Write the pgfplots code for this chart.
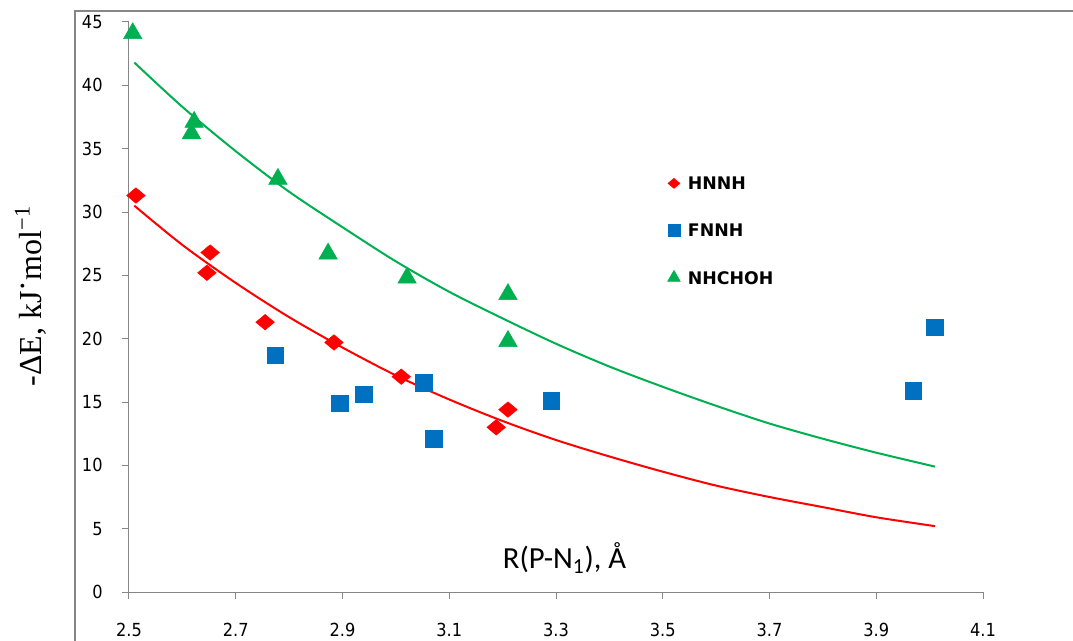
\documentclass[border=0pt]{standalone}
\usepackage{pgfplots}
\pgfplotsset{compat=1.18}
\usepackage{fontspec}
\setmainfont{DejaVu Sans}
\newfontfamily\tickfont{DejaVu Sans}[FakeStretch=0.9]
\newfontfamily\labelfont{Carlito}
\newfontfamily\seriffont{Liberation Serif}

\definecolor{hred}{RGB}{255,0,0}
\definecolor{fblue}{RGB}{0,112,192}
\definecolor{ngreen}{RGB}{0,176,80}
\definecolor{axgray}{RGB}{134,134,134}

\pgfplotsset{onemark/.style={legend image code/.code={\draw[##1] plot coordinates {(0pt,0pt)};}}}

% measured points
\pgfplotstableread{
x y
2.513 31.3
2.652 26.8
2.646 25.2
2.755 21.3
2.884 19.7
3.010 17.0
3.188 13.0
3.210 14.4
}\hnnh
\pgfplotstableread{
x y
2.774 18.7
2.895 14.9
2.940 15.6
3.052 16.5
3.071 12.1
3.291 15.1
3.969 15.9
4.010 20.9
}\fnnh
\pgfplotstableread{
x y
2.507 44.1
2.622 37.1
2.617 36.2
2.779 32.6
2.873 26.7
3.021 24.8
3.210 23.5
3.210 19.8
}\nhchoh

\begin{document}
\begin{tikzpicture}
\path[use as bounding box] (0,0) rectangle (804.75pt,480pt);
\draw[axgray, line width=1.3pt] (56.25pt,-5pt) -- (56.25pt,471.75pt) -- (820pt,471.75pt);
\begin{axis}[
  at={(96.75pt,36pt)}, anchor=south west,
  scale only axis, width=640.5pt, height=427.5pt,
  xmin=2.5, xmax=4.1, ymin=0, ymax=45,
  xtick={2.5,2.7,2.9,3.1,3.3,3.5,3.7,3.9,4.1},
  ytick={0,5,10,15,20,25,30,35,40,45},
  axis x line*=bottom, axis y line*=left,
  axis line style={draw=axgray, line width=0.75pt, -},
  tick style={draw=axgray, line width=0.75pt},
  tick align=outside, major tick length=5pt,
  clip=false,
  /pgf/number format/assume math mode=true,
  tick label style={font=\tickfont\fontsize{13.5}{16}\selectfont, inner sep=0pt},
  xticklabel style={anchor=north, yshift=-18pt,
    /pgf/number format/.cd, fixed, precision=1, fixed zerofill},
  yticklabel style={anchor=east, xshift=-14.6pt},
  xlabel={\labelfont\fontsize{23}{26}\selectfont R(P-N\textsubscript{1}), Å},
  xlabel style={at={(axis description cs:0.51,0.0404)}, anchor=base},
  ylabel={\seriffont\fontsize{24}{28}\selectfont -ΔE, kJ\raisebox{0.55ex}{·}mol\textsuperscript{−1}},
  ylabel style={at={(axis description cs:-0.1022,0.519)}, anchor=base},
  legend style={at={(axis description cs:0.6307,0.728)}, anchor=north west,
    draw=none, fill=none, inner sep=0pt, outer sep=0pt,
    font=\bfseries\fontsize{13}{15}\selectfont,
    nodes={inner sep=0pt, text height=9.5pt, text depth=0pt},
    row sep=25.5pt, column sep=5.7pt},
  legend cell align=left,
]
\addplot[only marks, mark=diamond*, mark size=5.8pt, color=hred,
  mark options={xscale=1.6}, forget plot] table[x=x,y=y] {\hnnh};
\addplot[only marks, mark=square*, mark size=6.2pt, color=fblue, forget plot]
  table[x=x,y=y] {\fnnh};
\addplot[only marks, mark=triangle*, mark size=8pt, color=ngreen, forget plot]
  table[x=x,y=y] {\nhchoh};
% trendlines
\addplot[hred, line width=1.5pt, smooth, forget plot] coordinates {
  (2.51,30.5) (2.6,27.4) (2.7,24.4) (2.8,21.7) (2.9,19.3) (3.0,17.1)
  (3.1,15.2) (3.2,13.5) (3.3,12.0) (3.4,10.7) (3.5,9.5) (3.6,8.4)
  (3.7,7.5) (3.8,6.7) (3.9,5.9) (4.01,5.2)};
\addplot[ngreen, line width=1.5pt, smooth, forget plot] coordinates {
  (2.51,41.8) (2.6,38.3) (2.7,34.8) (2.8,31.6) (2.9,28.8) (3.0,26.1)
  (3.1,23.7) (3.2,21.6) (3.3,19.6) (3.4,17.8) (3.5,16.2) (3.6,14.7)
  (3.7,13.3) (3.8,12.1) (3.9,11.0) (4.01,9.9)};
\addlegendimage{only marks, onemark, mark=diamond*, mark size=3.75pt, color=hred, mark options={xscale=1.6}}
\addlegendentry{HNNH}
\addlegendimage{only marks, onemark, mark=square*, mark size=4.5pt, color=fblue}
\addlegendentry{FNNH}
\addlegendimage{only marks, onemark, mark=triangle*, mark size=5.5pt, color=ngreen}
\addlegendentry{NHCHOH}
\end{axis}
\end{tikzpicture}
\end{document}
